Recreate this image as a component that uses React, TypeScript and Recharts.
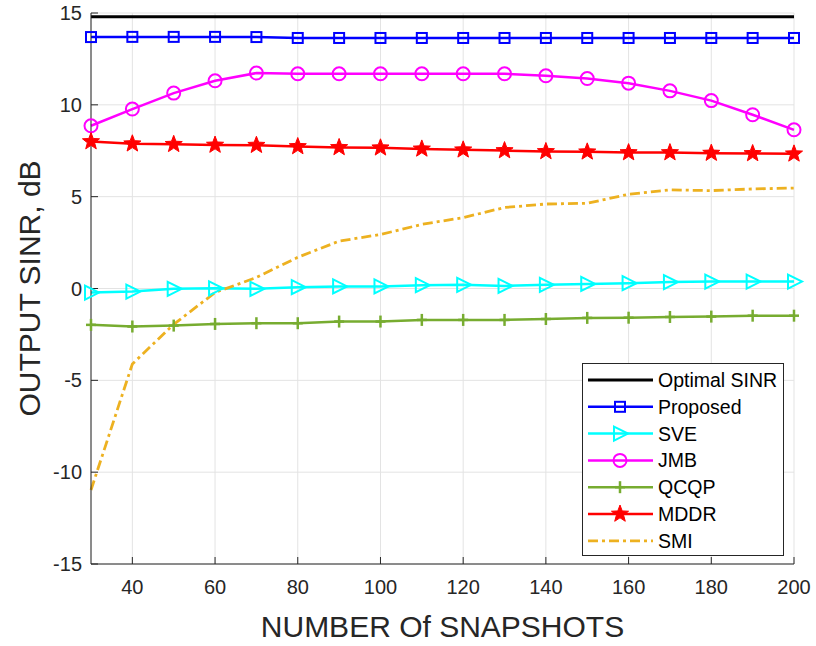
import React from "react";
import {
  LineChart,
  Line,
  XAxis,
  YAxis,
  CartesianGrid,
  Label,
} from "recharts";

const SNAPSHOTS = [30, 40, 50, 60, 70, 80, 90, 100, 110, 120, 130, 140, 150, 160, 170, 180, 190, 200];
const X_TICKS = [40, 60, 80, 100, 120, 140, 160, 180, 200];
const Y_TICKS = [-15, -10, -5, 0, 5, 10, 15];

const OPTIMAL = [14.8, 14.8, 14.8, 14.8, 14.8, 14.8, 14.8, 14.8, 14.8, 14.8, 14.8, 14.8, 14.8, 14.8, 14.8, 14.8, 14.8, 14.8];
const PROPOSED = [13.69, 13.7, 13.7, 13.7, 13.69, 13.64, 13.64, 13.64, 13.64, 13.64, 13.64, 13.64, 13.64, 13.64, 13.64, 13.64, 13.64, 13.64];
const SVE = [-0.22, -0.17, -0.02, 0.01, -0.02, 0.07, 0.11, 0.11, 0.18, 0.2, 0.14, 0.2, 0.25, 0.29, 0.35, 0.38, 0.38, 0.38];
const JMB = [8.86, 9.77, 10.64, 11.31, 11.73, 11.69, 11.69, 11.69, 11.69, 11.69, 11.69, 11.58, 11.43, 11.18, 10.76, 10.23, 9.46, 8.64];
const QCQP = [-1.98, -2.07, -2.02, -1.93, -1.89, -1.89, -1.8, -1.8, -1.71, -1.71, -1.71, -1.66, -1.6, -1.59, -1.55, -1.53, -1.48, -1.48];
const MDDR = [8.0, 7.88, 7.85, 7.81, 7.8, 7.73, 7.68, 7.66, 7.6, 7.55, 7.51, 7.46, 7.44, 7.4, 7.4, 7.37, 7.35, 7.33];
const SMI = [-10.97, -4.11, -1.95, -0.22, 0.6, 1.7, 2.58, 2.94, 3.49, 3.86, 4.41, 4.6, 4.64, 5.13, 5.37, 5.33, 5.42, 5.47];

const data = SNAPSHOTS.map((n, i) => ({
  n,
  optimal: OPTIMAL[i],
  proposed: PROPOSED[i],
  sve: SVE[i],
  jmb: JMB[i],
  qcqp: QCQP[i],
  mddr: MDDR[i],
  smi: SMI[i],
}));

const FONT = "'Liberation Sans', Arial, Helvetica, sans-serif";
const AXIS = "#262626";

type Marker = "none" | "square" | "triangle" | "circle" | "plus" | "star";

function starPoints(cx: number, cy: number, ro: number, ri: number) {
  const pts: string[] = [];
  for (let k = 0; k < 10; k++) {
    const r = k % 2 === 0 ? ro : ri;
    const a = -Math.PI / 2 + (k * Math.PI) / 5;
    pts.push(`${cx + r * Math.cos(a)},${cy + r * Math.sin(a)}`);
  }
  return pts.join(" ");
}

function MarkerShape({ type, cx, cy, color }: { type: Marker; cx: number; cy: number; color: string }) {
  switch (type) {
    case "square":
      return <rect x={cx - 5} y={cy - 5} width={10} height={10} fill="none" stroke={color} strokeWidth={2} />;
    case "triangle":
      return (
        <polygon
          points={`${cx - 6},${cy - 7} ${cx + 8},${cy} ${cx - 6},${cy + 7}`}
          fill="none"
          stroke={color}
          strokeWidth={2}
        />
      );
    case "circle":
      return <circle cx={cx} cy={cy} r={6.5} fill="none" stroke={color} strokeWidth={2} />;
    case "plus":
      return (
        <g stroke={color} strokeWidth={2.5}>
          <line x1={cx} y1={cy - 6} x2={cx} y2={cy + 6} />
          <line x1={cx - 5} y1={cy} x2={cx + 5} y2={cy} />
        </g>
      );
    case "star":
      return <polygon points={starPoints(cx, cy, 9, 3.8)} fill={color} stroke={color} strokeWidth={1} />;
    default:
      return null;
  }
}

const SERIES: { key: string; name: string; color: string; marker: Marker; dash?: string; width: number }[] = [
  { key: "optimal", name: "Optimal SINR", color: "#000000", marker: "none", width: 3 },
  { key: "proposed", name: "Proposed", color: "#0000FF", marker: "square", width: 2.5 },
  { key: "sve", name: "SVE", color: "#00FFFF", marker: "triangle", width: 2.5 },
  { key: "jmb", name: "JMB", color: "#FF00FF", marker: "circle", width: 2.5 },
  { key: "qcqp", name: "QCQP", color: "#77AC30", marker: "plus", width: 2.5 },
  { key: "mddr", name: "MDDR", color: "#FF0000", marker: "star", width: 2.5 },
  { key: "smi", name: "SMI", color: "#EDB120", marker: "none", dash: "10 4 3 4", width: 2.8 },
];

function LegendBox() {
  const w = 202;
  const h = 193;
  return (
    <svg width={w} height={h} style={{ position: "absolute", left: 582, top: 363 }}>
      <rect x={0.5} y={0.5} width={w - 1} height={h - 1} fill="#fff" stroke={AXIS} strokeWidth={1} />
      {SERIES.map((s, i) => {
        const y = 17 + i * 26.8;
        return (
          <g key={s.key}>
            <line x1={6} y1={y} x2={71} y2={y} stroke={s.color} strokeWidth={s.width} strokeDasharray={s.dash} />
            <MarkerShape type={s.marker} cx={38} cy={y} color={s.color} />
            <text x={76} y={y + 7} fontFamily={FONT} fontSize={19.5} fill="#000">
              {s.name}
            </text>
          </g>
        );
      })}
    </svg>
  );
}

export default function App() {
  const tickStyle = { fontSize: 20, fill: AXIS, fontFamily: FONT };
  return (
    <div style={{ position: "absolute", left: 0, top: 0, width: 816, height: 646, background: "#fff" }}>
      <LineChart width={816} height={646} data={data} margin={{ top: 13, right: 22, bottom: 2, left: 0 }}>
        <CartesianGrid stroke="#e3e3e3" strokeWidth={1} />
        <XAxis
          dataKey="n"
          type="number"
          domain={[30, 200]}
          ticks={X_TICKS}
          height={80}
          tickSize={-7}
          tickMargin={23}
          tick={tickStyle}
          stroke={AXIS}
          interval={0}
        >
          <Label
            value="NUMBER Of SNAPSHOTS"
            position="insideBottom"
            offset={7}
            style={{ fontSize: 30, fill: AXIS, fontFamily: FONT }}
          />
        </XAxis>
        <XAxis
          xAxisId="top"
          dataKey="n"
          type="number"
          orientation="top"
          domain={[30, 200]}
          ticks={X_TICKS}
          height={0}
          tickSize={-7}
          tick={false}
          stroke={AXIS}
        />
        <YAxis
          type="number"
          domain={[-15, 15]}
          ticks={Y_TICKS}
          width={91}
          tickSize={-7}
          tickMargin={16}
          tick={tickStyle}
          stroke={AXIS}
          interval={0}
        >
          <Label
            value="OUTPUT SINR, dB"
            angle={-90}
            position="insideLeft"
            offset={29}
            style={{ fontSize: 30, fill: AXIS, fontFamily: FONT, textAnchor: "middle" }}
          />
        </YAxis>
        <YAxis
          yAxisId="right"
          orientation="right"
          type="number"
          domain={[-15, 15]}
          ticks={Y_TICKS}
          width={0}
          tickSize={-7}
          tick={false}
          stroke={AXIS}
        />
        {SERIES.map((s) => (
          <Line
            key={s.key}
            dataKey={s.key}
            type="linear"
            stroke={s.color}
            strokeWidth={s.width}
            strokeDasharray={s.dash}
            isAnimationActive={false}
            activeDot={false}
            dot={
              s.marker === "none"
                ? false
                : (p: any) => <MarkerShape key={`${s.key}-${p.index}`} type={s.marker} cx={p.cx} cy={p.cy} color={s.color} />
            }
          />
        ))}
      </LineChart>
      <LegendBox />
    </div>
  );
}
